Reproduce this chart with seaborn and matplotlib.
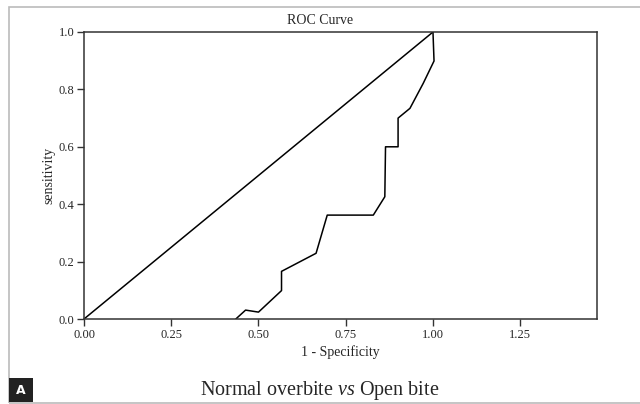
import matplotlib
matplotlib.use("Agg")
import matplotlib.pyplot as plt
import seaborn as sns
import pandas as pd
from matplotlib.patches import Rectangle

# ROC curve points
fpr = [0.435, 0.463, 0.500, 0.566, 0.566, 0.665, 0.697, 0.829, 0.862, 0.864, 0.900, 0.900, 0.934, 0.972, 1.003, 1.0]
tpr = [0.0, 0.031, 0.024, 0.099, 0.166, 0.229, 0.362, 0.362, 0.426, 0.600, 0.600, 0.700, 0.734, 0.821, 0.899, 1.0]

# reference diagonal
ref_x = [0.0, 1.0]
ref_y = [0.0, 1.0]

xticks = [0.00, 0.25, 0.50, 0.75, 1.00, 1.25]
yticks = [0.0, 0.2, 0.4, 0.6, 0.8, 1.0]

sns.set_style("ticks")
plt.rcParams['font.family'] = ['Liberation Serif', 'DejaVu Serif']
plt.rcParams['mathtext.fontset'] = 'custom'
plt.rcParams['mathtext.rm'] = 'Liberation Serif'
plt.rcParams['mathtext.it'] = 'Liberation Serif:italic'

fig = plt.figure(figsize=(6.4, 4.04), dpi=100)
ax = fig.add_axes([84 / 640, 1 - 319 / 404, (597 - 84) / 640, (319 - 32) / 404])

roc = pd.DataFrame({"fpr": fpr, "tpr": tpr})
diag = pd.DataFrame({"x": ref_x, "y": ref_y})
sns.lineplot(data=roc, x="fpr", y="tpr", sort=False, estimator=None, color="black", lw=1.1, ax=ax)
sns.lineplot(data=diag, x="x", y="y", sort=False, estimator=None, color="black", lw=1.1, ax=ax)

ax.set_xlim(0, 1.47)
ax.set_ylim(0, 1.0)
ax.set_xticks(xticks)
ax.set_xticklabels([f"{t:.2f}" for t in xticks])
ax.set_yticks(yticks)
ax.set_yticklabels([f"{t:.1f}" for t in yticks])
ax.tick_params(direction="out", length=5, width=1, labelsize=9, color="#333333", pad=2)
for s in ax.spines.values():
    s.set_visible(True)
    s.set_color("#333333")
    s.set_linewidth(1.1)
ax.set_xlabel("1 - Specificity", fontsize=10, labelpad=3)
ax.set_ylabel("sensitivity", fontsize=10, labelpad=2)

fig.text(0.5, 1 - 21 / 404, "ROC Curve", ha="center", va="center", fontsize=10)

# caption with italic "vs"
fig.text(0.5, 1 - 390 / 404, r"Normal overbite $\mathit{vs}$ Open bite", ha="center", va="center", fontsize=14.5)

# outer frame
fig.patches.append(Rectangle((9 / 640, 1.5 / 404), 0.99, 395.5 / 404, transform=fig.transFigure,
                             fill=False, edgecolor="#bbbbbb", lw=1.2))
# panel letter
fig.patches.append(Rectangle((9 / 640, 2 / 404), 24 / 640, 24 / 404, transform=fig.transFigure,
                             facecolor="#222222", edgecolor="none"))
fig.text(21 / 640, 1 - 390 / 404, "A", ha="center", va="center", color="white",
         fontsize=9, fontweight="bold", family="DejaVu Sans")

fig.savefig("out.png", dpi=100)
